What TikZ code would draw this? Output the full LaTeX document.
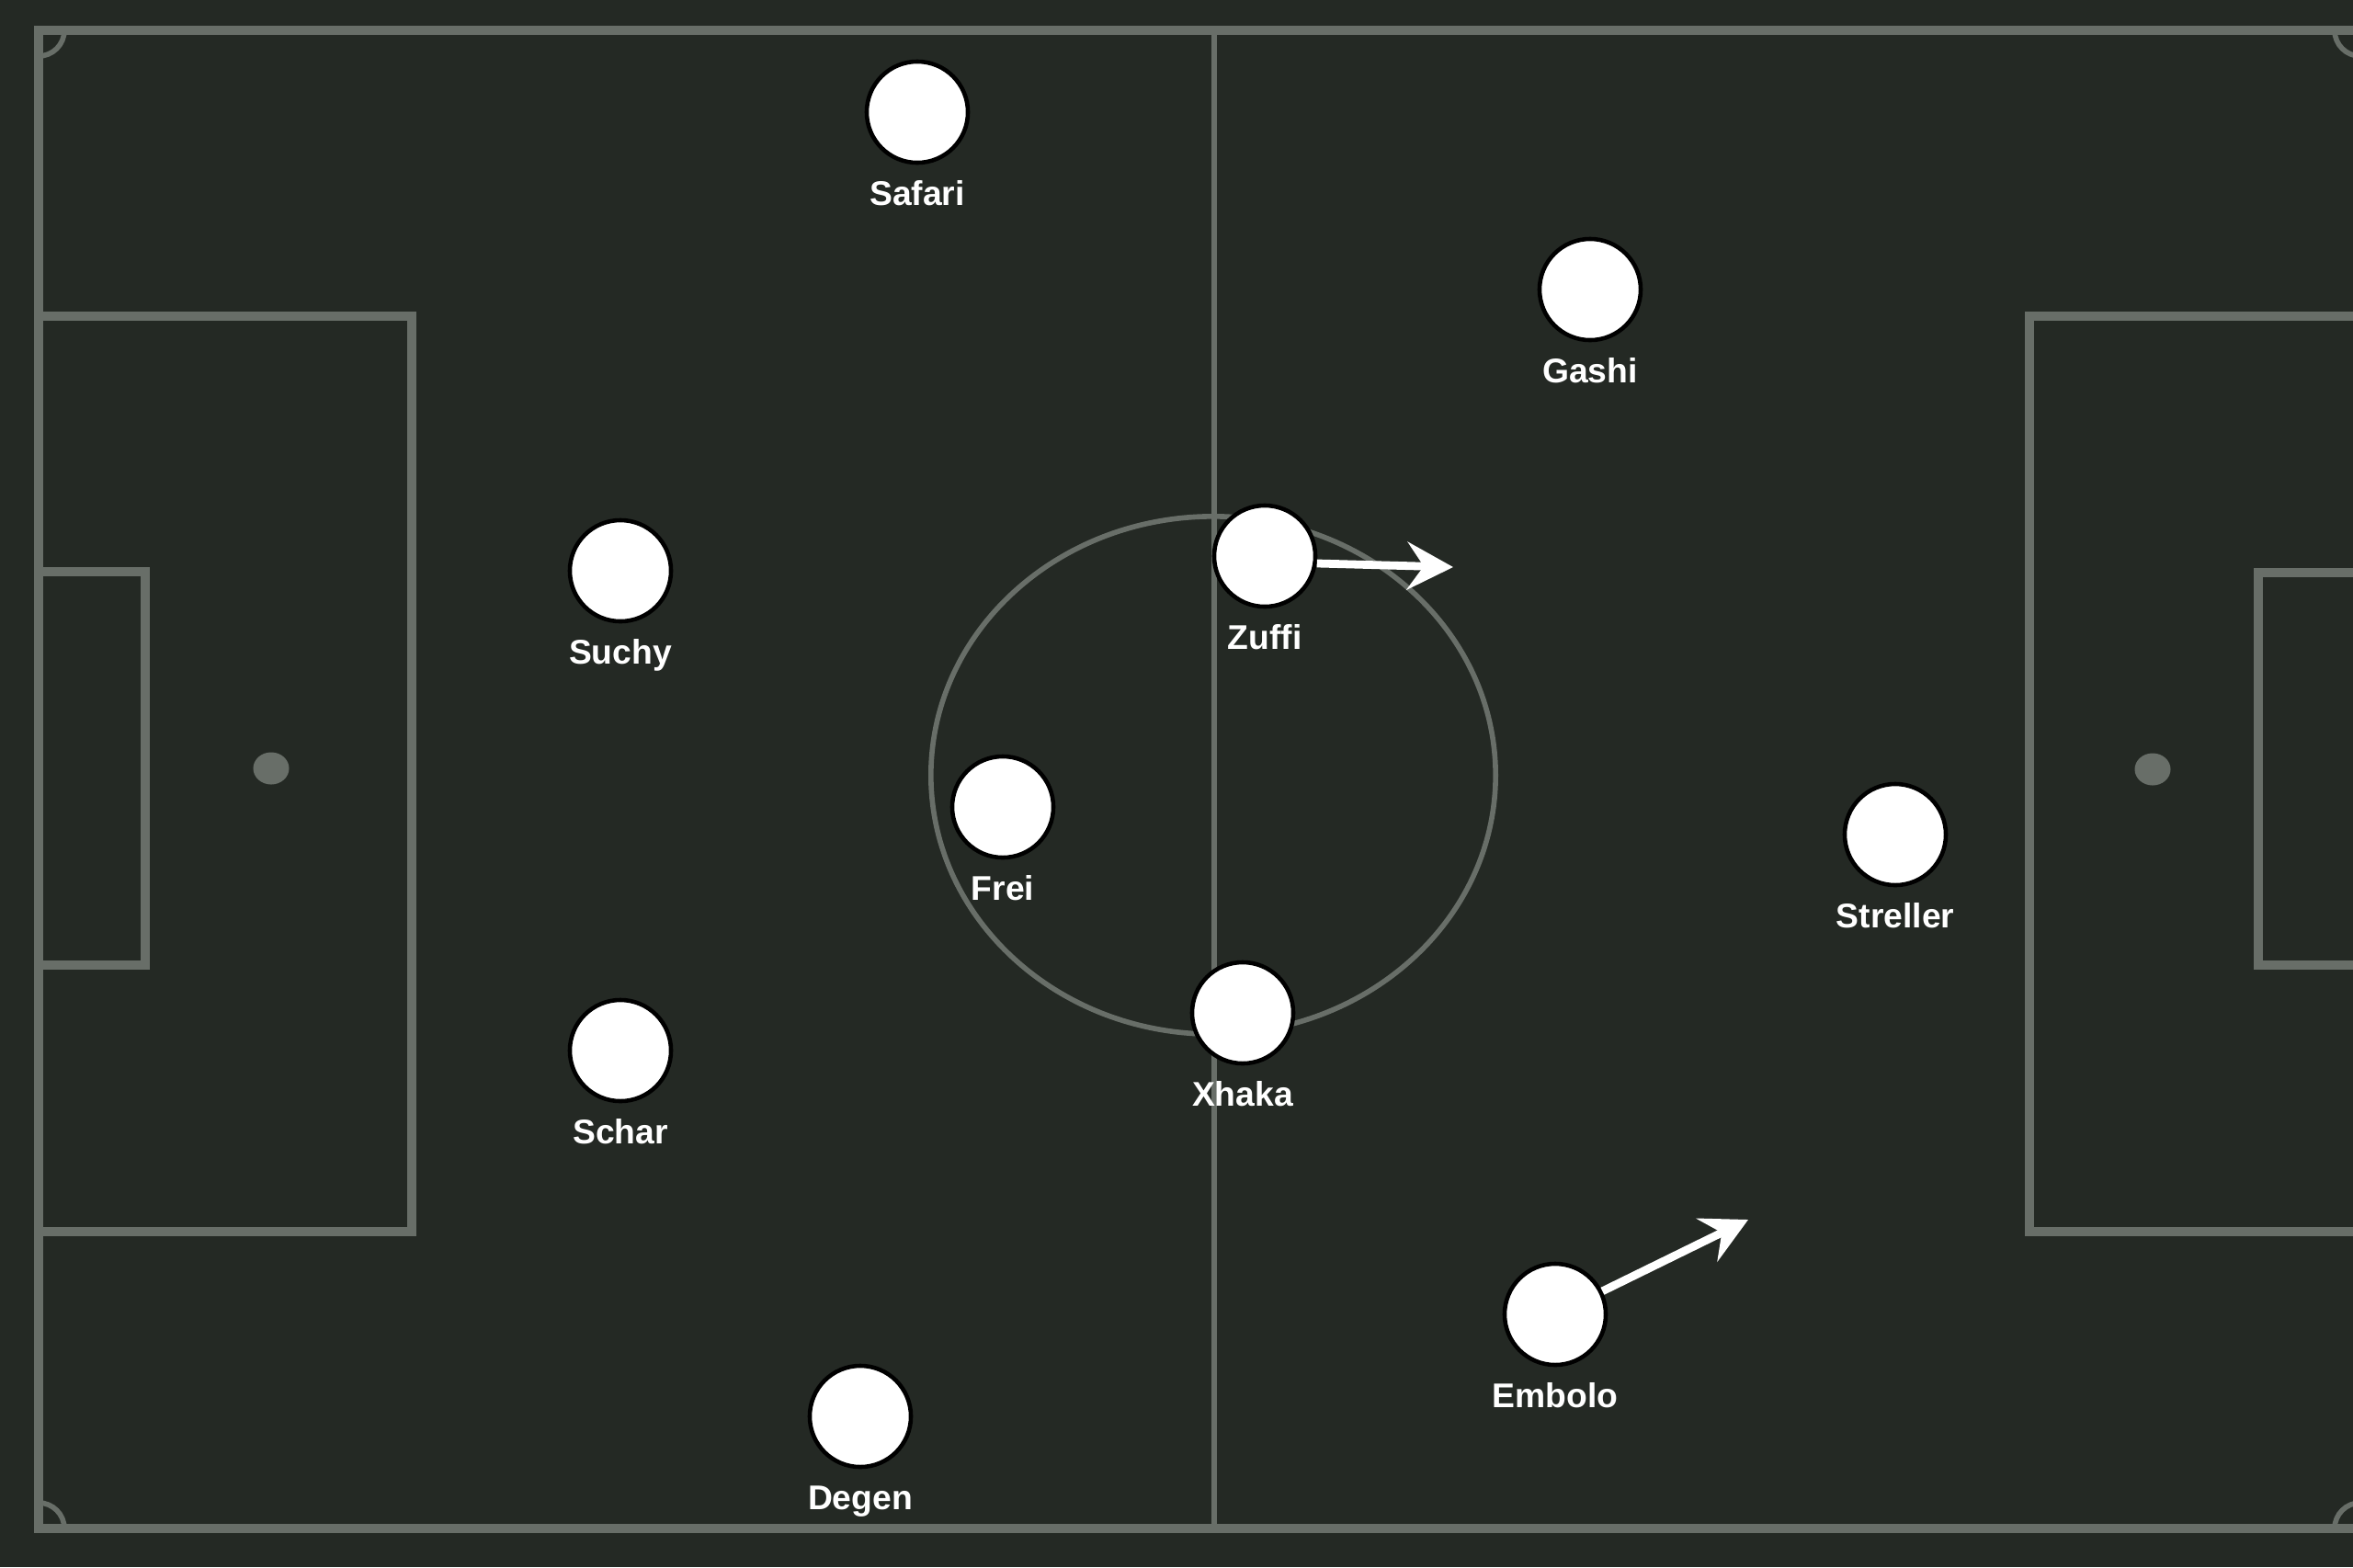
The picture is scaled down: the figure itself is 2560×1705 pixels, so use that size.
\documentclass[tikz,border=0pt]{standalone}
\usepackage{fontspec}
\setmainfont{Liberation Sans}
\usetikzlibrary{positioning,arrows.meta}

\definecolor{pitch}{RGB}{36,41,36}
\definecolor{chalk}{RGB}{104,110,104}

\begin{document}
\begin{tikzpicture}[x=0.01cm, y=-0.01cm,
        line/.style={draw=chalk, line width=2.8pt},
        thin line/.style={draw=chalk, line width=1.6pt},
        spot/.style={fill=chalk},
        player/.style={circle, fill=white, draw=black, line width=1.3pt,
                       minimum size=1.1cm, inner sep=0pt},
        tag/.style={text=white, font=\bfseries\fontsize{10.6}{12}\selectfont,
                    inner sep=0pt, text height=0.27cm, text depth=0pt},
        run/.style={draw=white, line width=2.5pt,
                    -{Stealth[length=0.5cm, width=0.52cm, inset=0.18cm]}}]
        \useasboundingbox (0,0) rectangle (2560,1705);
        \fill [pitch] (0,0) rectangle (2560,1705);
        \clip (0,0) rectangle (2560,1705);
        % pitch markings
        \draw [line] (42,33) rectangle (2568,1663);
        \draw [thin line] (1321,33) -- (1321,1663);
        \draw [thin line] (1320,843.5) ellipse [x radius=3.07cm, y radius=2.815cm];
        \draw [line] (42,344) rectangle (448,1340);
        \draw [line] (42,622) rectangle (158,1050);
        \draw [line] (2208,344) rectangle (2568,1340);
        \draw [line] (2457,623) rectangle (2568,1050);
        \fill [spot] (295,836) ellipse [x radius=0.195cm, y radius=0.175cm];
        \fill [spot] (2342,837) ellipse [x radius=0.195cm, y radius=0.175cm];
        \draw [thin line] (70,33) arc [start angle=0, end angle=-90, radius=0.28cm];
        \draw [thin line] (42,1635) arc [start angle=90, end angle=0, radius=0.28cm];
        \draw [thin line] (2540,33) arc [start angle=180, end angle=270, radius=0.28cm];
        \draw [thin line] (2568,1635) arc [start angle=90, end angle=180, radius=0.28cm];
        % players
        \node [player] (safari)   at (998,122)   {};
        \node [player] (gashi)    at (1730,315)  {};
        \node [player] (suchy)    at (675,621)   {};
        \node [player] (zuffi)    at (1376,605)  {};
        \node [player] (frei)     at (1091,878)  {};
        \node [player] (streller) at (2062,908)  {};
        \node [player] (schar)    at (675,1143)  {};
        \node [player] (xhaka)    at (1352,1102) {};
        \node [player] (embolo)   at (1692,1430) {};
        \node [player] (degen)    at (936,1541)  {};
        \node [tag, below=0.16cm of safari]   (safariName)   {Safari};
        \node [tag, below=0.16cm of gashi]    (gashiName)    {Gashi};
        \node [tag, below=0.16cm of suchy]    (suchyName)    {Suchy};
        \node [tag, below=0.16cm of zuffi]    (zuffiName)    {Zuffi};
        \node [tag, below=0.16cm of frei]     (freiName)     {Frei};
        \node [tag, below=0.16cm of streller] (strellerName) {Streller};
        \node [tag, below=0.16cm of schar]    (scharName)    {Schar};
        \node [tag, below=0.16cm of xhaka]    (xhakaName)    {Xhaka};
        \node [tag, below=0.16cm of embolo]   (emboloName)   {Embolo};
        \node [tag, below=0.16cm of degen]    (degenName)    {Degen};
        % runs
        \coordinate (zuffiRun)  at (1581,617);
        \coordinate (emboloRun) at (1902,1327);
        \draw [run] (zuffi.-8) -- (zuffiRun);
        \draw [run] (embolo) -- (emboloRun);
    \end{tikzpicture}
\end{document}
